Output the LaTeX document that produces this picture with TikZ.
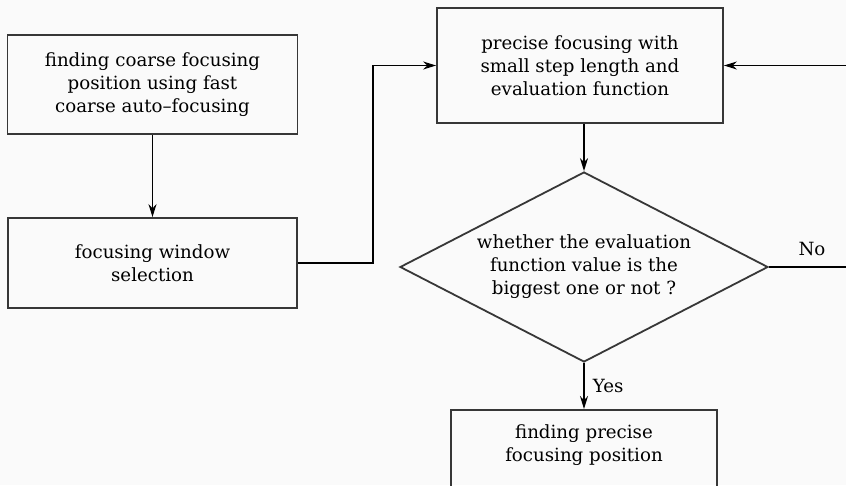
\documentclass[tikz,border=0pt]{standalone}
\usepackage{fontspec}
\setmainfont{DejaVu Serif}
\usetikzlibrary{shapes.geometric,arrows.meta}
\definecolor{boxline}{RGB}{55,55,55}
\begin{document}
\begin{tikzpicture}[x=1pt,y=-1pt,
  every node/.style={font=\fontsize{18.2}{23}\selectfont, align=center},
  stepbox/.style={draw=boxline, line width=1.8pt, rectangle, inner sep=0pt},
  decision/.style={draw=boxline, line width=1.8pt, diamond, inner sep=0pt, shape aspect=1.94},
  conn/.style={draw=black, line width=1.7pt},
  arr/.style={conn, -{Stealth[length=13pt,width=8pt]}},
  lbl/.style={inner sep=0pt}
]
\clip (0,0) rectangle (846,485);
\fill[white!98!black] (0,0) rectangle (846,485);

\node[stepbox, minimum width=290pt, minimum height=99pt] (b1) at (152.5,84.5)
  {finding coarse focusing\\position using fast\\coarse auto--focusing};
\node[stepbox, minimum width=289pt, minimum height=90pt] (b2) at (152.5,263)
  {focusing window\\selection};
\node[stepbox, minimum width=286pt, minimum height=115pt] (b3) at (580,65.5)
  {precise focusing with\\small step length and\\evaluation function};
\node[decision, minimum width=368pt, minimum height=190pt] (d) at (584,267)
  {whether the evaluation\\function value is the\\biggest one or not ?};
\node[stepbox, minimum width=266pt, minimum height=100pt, anchor=north,
  label={[lbl, anchor=north, yshift=-15pt]north:finding precise\\focusing position}] (b4) at (584,409) {};

\coordinate (mid) at (373,160);
\coordinate (rgt) at (860,160);

\draw[arr] (b1.south) -- (b2.north);
\draw[arr] (b2.east) -| (mid) |- (b3.west);
\draw[arr] (d.north |- b3.south) -- (d.north);
\draw[arr] (d.east) -| (rgt) |- (b3.east);
\draw[arr] (d.south) -- node[lbl, right=8pt] {Yes} (b4.north);
\node[lbl] (no) at (812,249) {No};
\end{tikzpicture}
\end{document}
